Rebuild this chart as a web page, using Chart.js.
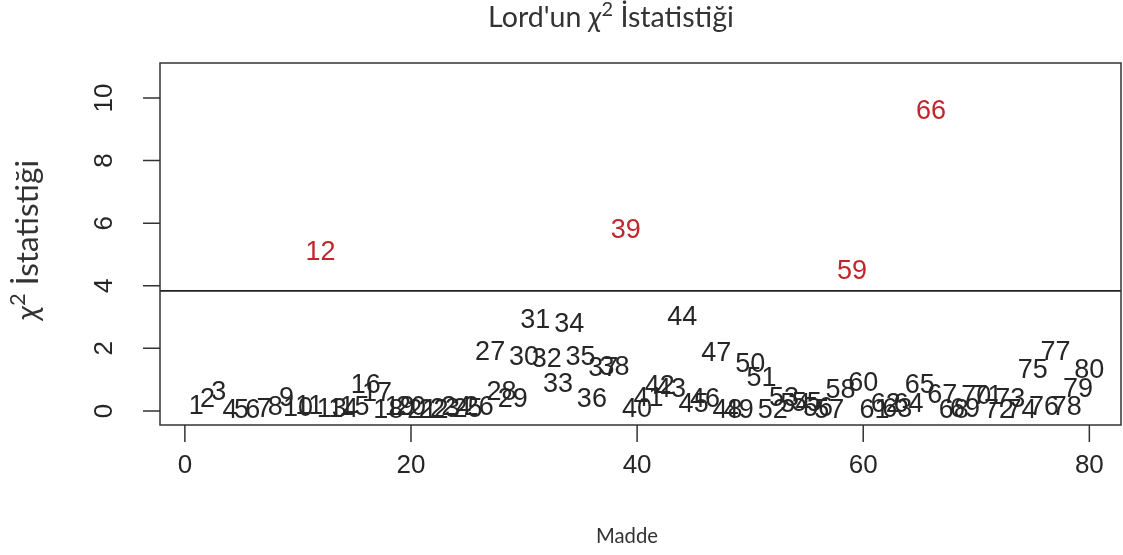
<!DOCTYPE html>
<html>
<head>
<meta charset="utf-8">
<script src="https://cdn.jsdelivr.net/npm/chart.js@4.4.1/dist/chart.umd.min.js"></script>
<style>
html,body{margin:0;padding:0;background:#fff;}
#wrap{width:1123px;height:555px;position:relative;}
</style>
</head>
<body>
<div id="wrap"><canvas id="c" width="1123" height="555"></canvas></div>
<script>
// ---- data ----
const items = [1,2,3,4,5,6,7,8,9,10,11,12,13,14,15,16,17,18,19,20,
  21,22,23,24,25,26,27,28,29,30,31,32,33,34,35,36,37,38,39,40,
  41,42,43,44,45,46,47,48,49,50,51,52,53,54,55,56,57,58,59,60,
  61,62,63,64,65,66,67,68,69,70,71,72,73,74,75,76,77,78,79,80];
const chiValues = [0.15,0.35,0.60,0.00,0.00,0.00,0.05,0.10,0.40,0.07,
  0.15,5.07,0.05,0.05,0.10,0.80,0.55,0.00,0.10,0.12,
  0.00,0.00,0.03,0.10,0.03,0.12,1.88,0.60,0.35,1.72,
  2.90,1.63,0.83,2.75,1.70,0.35,1.37,1.40,5.78,0.03,
  0.40,0.77,0.67,2.97,0.20,0.35,1.82,0.00,0.00,1.47,
  1.05,0.00,0.40,0.20,0.22,0.06,0.00,0.65,4.44,0.86,
  0.00,0.20,0.03,0.20,0.80,9.58,0.48,0.00,0.03,0.45,
  0.45,0.00,0.35,0.00,1.28,0.10,1.85,0.10,0.67,1.30];
const critical = 3.84;
const xTicks = [0,20,40,60,80];
const yTicks = [0,2,4,6,8,10];
const titleText = ["Lord'un ", "χ", "2", " İstatistiği"];
const xTitle = "Madde";
const yTitle = ["", "χ", "2", " İstatistiği"];

const points = items.map((it,i)=>({x:it,y:chiValues[i]}));

const rPlot = {
  id:'rplot',
  afterDatasetsDraw(chart){
    const ctx = chart.ctx, a = chart.chartArea;
    const xs = chart.scales.x, ys = chart.scales.y;
    ctx.save();
    // critical line
    const yc = ys.getPixelForValue(critical);
    ctx.strokeStyle = '#222'; ctx.lineWidth = 1.7;
    ctx.beginPath(); ctx.moveTo(a.left, yc); ctx.lineTo(a.right, yc); ctx.stroke();
    // labels
    const meta = chart.getDatasetMeta(0);
    ctx.font = '27px "Liberation Sans", Arial, sans-serif';
    ctx.textAlign = 'center'; ctx.textBaseline = 'middle';
    meta.data.forEach((el,i)=>{
      ctx.fillStyle = chiValues[i] > critical ? '#c0272d' : '#262626';
      ctx.fillText(String(items[i]), el.x, el.y);
    });
    // box
    ctx.strokeStyle = '#333'; ctx.lineWidth = 1.5;
    ctx.strokeRect(a.left, a.top, a.right-a.left, a.bottom-a.top);
    // x axis ticks
    ctx.fillStyle = '#262626';
    ctx.font = '26px "Liberation Sans", Arial, sans-serif';
    ctx.beginPath();
    xTicks.forEach(t=>{
      const px = xs.getPixelForValue(t);
      ctx.moveTo(px, a.bottom); ctx.lineTo(px, a.bottom+17);
    });
    ctx.stroke();
    xTicks.forEach(t=>{
      const px = xs.getPixelForValue(t);
      ctx.fillText(String(t), px, a.bottom+41);
    });
    // y axis ticks
    ctx.beginPath();
    yTicks.forEach(t=>{
      const py = ys.getPixelForValue(t);
      ctx.moveTo(a.left, py); ctx.lineTo(a.left-17, py);
    });
    ctx.stroke();
    yTicks.forEach(t=>{
      const py = ys.getPixelForValue(t);
      ctx.save(); ctx.translate(a.left-55, py); ctx.rotate(-Math.PI/2);
      ctx.fillText(String(t), 0, 0); ctx.restore();
    });
    // titles
    const fam = 'Lato, "Open Sans", sans-serif';
    ctx.fillStyle = '#333';
    ctx.textBaseline = 'alphabetic';
    function segs(parts, size){
      const sup = Math.round(size*0.7);
      return [
        {t:parts[0], f: size+'px '+fam, dy:0},
        {t:parts[1], f: 'italic '+size+'px '+fam, dy:0},
        {t:parts[2], f: sup+'px '+fam, dy:-size*0.4},
        {t:parts[3], f: size+'px '+fam, dy:0}
      ];
    }
    function widthOf(sg){
      let w = 0;
      sg.forEach(s=>{ ctx.font = s.f; w += ctx.measureText(s.t).width; });
      return w;
    }
    function fitSize(parts, target){
      const w = widthOf(segs(parts, 20));
      return 20*target/w;
    }
    function drawSegs(sg, cx, by){
      ctx.textAlign = 'left';
      let x = cx - widthOf(sg)/2;
      sg.forEach(s=>{ ctx.font = s.f; ctx.fillText(s.t, x, by + s.dy); x += ctx.measureText(s.t).width; });
    }
    const ts = fitSize(titleText, 246);
    drawSegs(segs(titleText, ts), 611, 27);
    // x title
    ctx.font = '20px '+fam;
    const mw = ctx.measureText(xTitle).width;
    ctx.font = (20*62/mw)+'px '+fam; ctx.textAlign='center';
    ctx.fillText(xTitle, 627, 543);
    // y title
    const ys2 = fitSize(yTitle, 160);
    ctx.save(); ctx.translate(38, 240); ctx.rotate(-Math.PI/2);
    drawSegs(segs(yTitle, ys2), 0, 0);
    ctx.restore();
    ctx.restore();
  }
};

new Chart(document.getElementById('c'), {
  type:'scatter',
  data:{datasets:[{data:points, pointRadius:0, pointHoverRadius:0, showLine:false}]},
  options:{
    responsive:false, animation:false, events:[],
    layout:{padding:{left:160, right:2, top:63, bottom:130}},
    plugins:{legend:{display:false}, tooltip:{enabled:false}, title:{display:false}},
    scales:{
      x:{type:'linear', min:-2.2, max:82.8, display:false},
      y:{type:'linear', min:-0.45, max:11.12, display:false}
    }
  },
  plugins:[rPlot]
});
</script>
</body>
</html>
